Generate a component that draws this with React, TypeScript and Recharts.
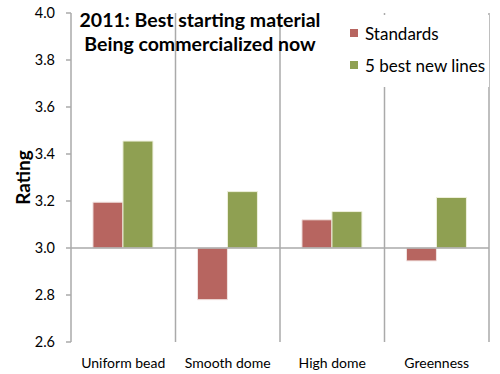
import { BarChart, Bar, XAxis, YAxis, CartesianGrid, ReferenceLine, Legend } from 'recharts';

const categories = ['Uniform bead', 'Smooth dome', 'High dome', 'Greenness'];
const standards = [3.195, 2.78, 3.12, 2.945];
const bestNewLines = [3.455, 3.24, 3.155, 3.215];
const yTicks = [2.6, 2.8, 3.0, 3.2, 3.4, 3.6, 3.8, 4.0];
const baseline = 3.0;

const titleLines = ['2011: Best starting material', 'Being commercialized now'];

const RED = '#B76560';
const GREEN = '#8FA052';
const FONT = 'Lato, "Open Sans", sans-serif';

const data = categories.map((name, i) => ({
  name,
  standards: [baseline, standards[i]],
  best: [baseline, bestNewLines[i]],
}));

function LegendBox() {
  const items = [
    { label: 'Standards', color: RED },
    { label: '5 best new lines', color: GREEN },
  ];
  return (
    <div style={{ background: '#fff', padding: '2px 0 6px 5px', fontFamily: FONT }}>
      {items.map((it) => (
        <div key={it.label} style={{ display: 'flex', alignItems: 'center', height: 32 }}>
          <span style={{ width: 8, height: 8, background: it.color, display: 'inline-block', marginRight: 7 }} />
          <span style={{ fontSize: 17, color: '#000' }}>{it.label}</span>
        </div>
      ))}
    </div>
  );
}

function RatingLabel({ viewBox }: any) {
  const cy = viewBox.y + viewBox.height / 2;
  const cx = 22;
  return (
    <text
      x={cx}
      y={cy}
      transform={`rotate(-90 ${cx} ${cy})`}
      textAnchor="middle"
      dominantBaseline="central"
      style={{ fontSize: 19, fontWeight: 'bold', fill: '#000', fontFamily: FONT }}
    >
      Rating
    </text>
  );
}

export default function App() {
  return (
    <div style={{ position: 'absolute', left: 0, top: 0, width: 500, height: 374, background: '#fff' }}>
      <BarChart
        width={500}
        height={374}
        data={data}
        margin={{ top: 13, right: 11, left: 0, bottom: 0 }}
        barCategoryGap="21%"
        barGap={0}
      >
        <CartesianGrid
          horizontal={false}
          stroke="#aaaaaa"
          strokeWidth={1.5}
          verticalCoordinatesGenerator={({ offset }: any) =>
            categories.map((_, i) => offset.left + (offset.width * (i + 1)) / categories.length)
          }
        />
        <XAxis
          dataKey="name"
          axisLine={false}
          tickLine={false}
          height={32}
          tickMargin={10}
          interval={0}
          tick={{ fontSize: 14, fill: '#000', fontFamily: FONT }}
        />
        <YAxis
          width={71}
          domain={[2.6, 4.0]}
          ticks={yTicks}
          tickFormatter={(v: number) => v.toFixed(1)}
          stroke="#aaaaaa"
          strokeWidth={1.5}
          tickSize={5}
          tickMargin={11}
          tick={{ fontSize: 14.5, fill: '#000', fontFamily: FONT }}
          label={<RatingLabel />}
        />
        <ReferenceLine y={baseline} stroke="#aaaaaa" strokeWidth={1.5} />
        <Legend
          layout="vertical"
          align="center"
          verticalAlign="middle"
          wrapperStyle={{ left: 345, top: 15, width: 144 }}
          content={() => <LegendBox />}
        />
        <Bar dataKey="standards" fill={RED} stroke="#f2e4e2" strokeWidth={1} isAnimationActive={false} />
        <Bar dataKey="best" fill={GREEN} stroke="#eef0dc" strokeWidth={1} isAnimationActive={false} />
      </BarChart>
      <div
        style={{
          position: 'absolute',
          left: 50,
          top: 8,
          width: 300,
          textAlign: 'center',
          fontFamily: FONT,
          fontWeight: 'bold',
          fontSize: 19.5,
          lineHeight: '24px',
          color: '#000',
        }}
      >
        {titleLines.map((t) => (
          <div key={t}>{t}</div>
        ))}
      </div>
    </div>
  );
}
